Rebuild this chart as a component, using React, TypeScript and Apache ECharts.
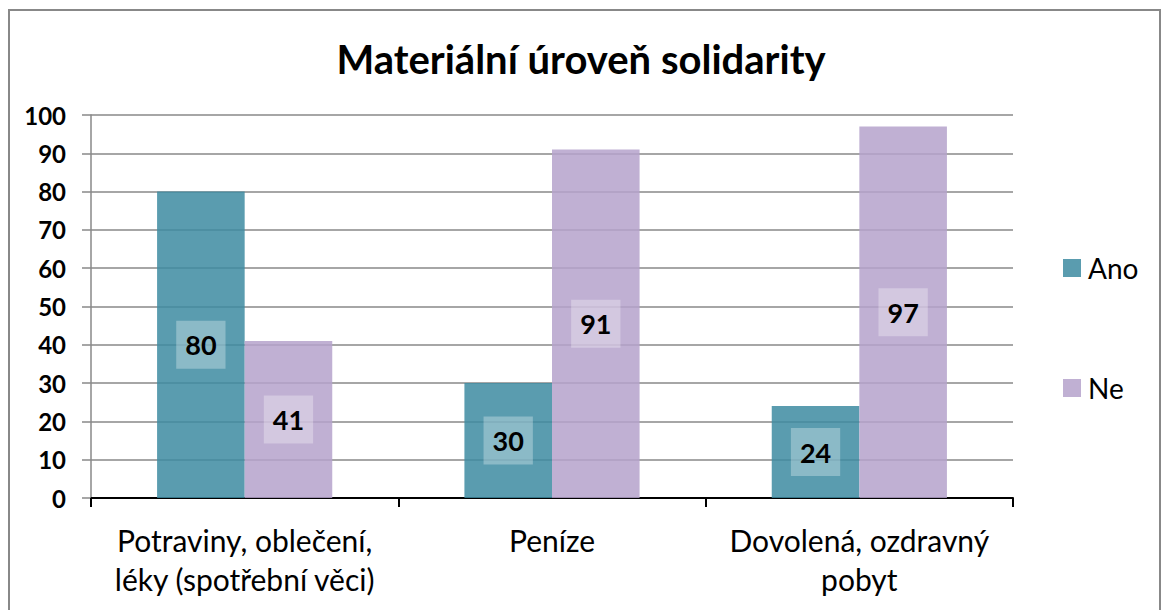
import React, { useEffect, useRef } from "react";
import * as echarts from "echarts";

const categories = ["Potraviny, oblečení,\nléky (spotřební věci)", "Peníze", "Dovolená, ozdravný\npobyt"];
const seriesNames = ["Ano", "Ne"];
const anoValues = [80, 30, 24];
const neValues = [41, 91, 97];
const colors = ["rgba(61,139,161,0.85)", "rgba(181,162,203,0.85)"];
const FONT = "Lato, 'Open Sans', sans-serif";

export default function App() {
  const ref = useRef<HTMLDivElement>(null);
  useEffect(() => {
    document.body.style.margin = "0";
    const chart = echarts.init(ref.current!, null, { renderer: "svg" });
    const label = {
      show: true,
      position: "inside",
      color: "#000",
      fontWeight: "bold",
      fontSize: 27,
      fontFamily: FONT,
      lineHeight: 28,
      backgroundColor: "rgba(255,255,255,0.3)",
      padding: [10, 9],
    };
    chart.setOption({
      animation: false,
      textStyle: { fontFamily: FONT },
      title: {
        text: "Materiální úroveň solidarity",
        left: "center",
        top: 34,
        textStyle: { fontSize: 40, fontWeight: "bold", color: "#000", fontFamily: FONT },
      },
      graphic: [
        {
          type: "rect",
          shape: { x: 9, y: 10, width: 1151, height: 640 },
          style: { fill: "none", stroke: "#888", lineWidth: 2 },
          silent: true,
        },
      ],
      legend: {
        orient: "vertical",
        left: 1058,
        top: 249,
        itemWidth: 18,
        itemHeight: 18,
        itemGap: 92,
        icon: "rect",
        data: seriesNames,
        textStyle: { fontSize: 28, color: "#000", fontFamily: FONT, lineHeight: 24, padding: [0, 0, 0, 2] },
      },
      grid: { left: 91, right: 149, top: 115, bottom: 112 },
      xAxis: {
        type: "category",
        data: categories,
        axisLine: { lineStyle: { color: "#000", width: 2 } },
        axisTick: { show: true, length: 9, lineStyle: { color: "#000", width: 2 } },
        axisLabel: { fontSize: 30, color: "#000", lineHeight: 39, margin: 22, fontFamily: FONT, interval: 0 },
      },
      yAxis: {
        type: "value",
        min: 0,
        max: 100,
        interval: 10,
        axisLine: { show: true, lineStyle: { color: "#888", width: 1.5 } },
        axisTick: { show: true, length: 9, lineStyle: { color: "#888", width: 1.5 } },
        splitLine: { lineStyle: { color: "#888", width: 1.5 } },
        axisLabel: { fontSize: 24, fontWeight: "bold", color: "#000", margin: 25, fontFamily: FONT },
      },
      series: [
        {
          name: seriesNames[0],
          type: "bar",
          data: anoValues,
          itemStyle: { color: colors[0] },
          barGap: "0%",
          barCategoryGap: "43%",
          label,
        },
        {
          name: seriesNames[1],
          type: "bar",
          data: neValues,
          itemStyle: { color: colors[1] },
          barGap: "0%",
          barCategoryGap: "43%",
          label,
        },
      ],
    });
    return () => chart.dispose();
  }, []);
  return <div ref={ref} style={{ width: 1162, height: 610 }} />;
}
